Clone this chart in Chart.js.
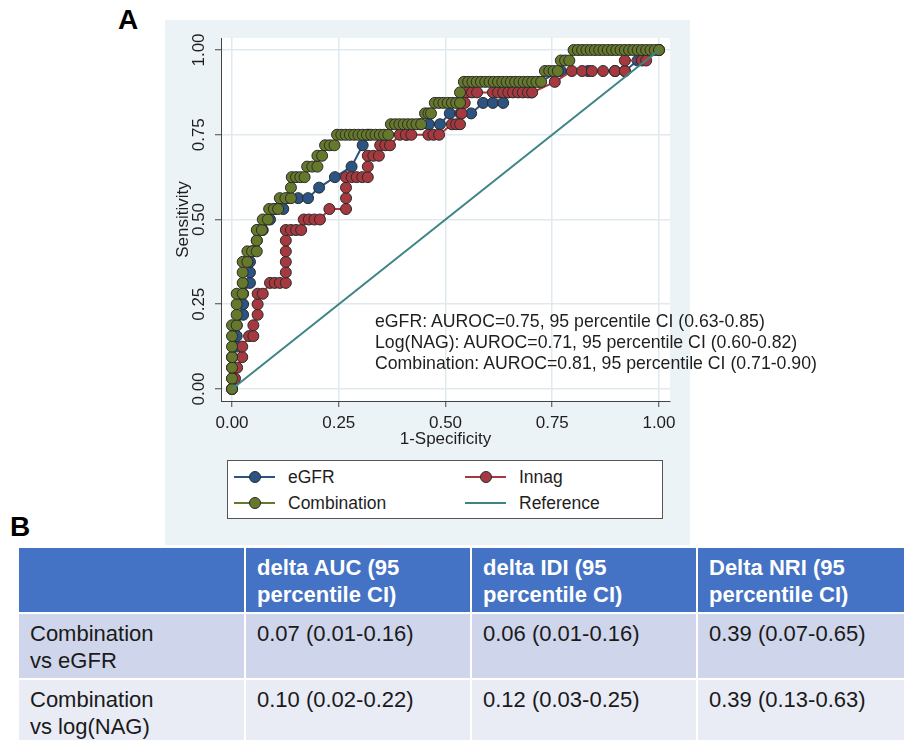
<!DOCTYPE html>
<html>
<head>
<meta charset="utf-8">
<script src="https://cdn.jsdelivr.net/npm/chart.js@4/dist/chart.umd.min.js"></script>
<style>
html,body{margin:0;padding:0;background:#fff;width:904px;height:740px;overflow:hidden;font-family:"Liberation Sans",Arial,sans-serif;}
.plabel{position:absolute;font-weight:bold;font-size:28px;line-height:28px;color:#000;}
#panelA{position:absolute;left:165px;top:20px;width:525px;height:525px;background:#ecf3f6;}
#chartCanvas{position:absolute;left:0;top:0;}
#annot{position:absolute;left:210px;top:291px;font-size:17.7px;line-height:21px;color:#1e1e1e;white-space:nowrap;}
#legend{position:absolute;left:62px;top:440px;width:434px;height:57px;border:1px solid #555;background:#fff;}
.li{position:absolute;height:26px;}
.sym{position:absolute;width:41px;height:26px;top:0;}
.sym .ln{position:absolute;left:0;right:0;top:12px;height:2px;}
.sym .mk{position:absolute;left:15px;top:7px;width:10px;height:10px;border-radius:50%;border:1px solid #2b2b2b;}
.li .tx{position:absolute;top:0;line-height:26px;font-size:17.5px;color:#1e1e1e;white-space:nowrap;}
#tbl{position:absolute;left:17px;top:546px;width:895px;border-collapse:separate;border-spacing:2px;table-layout:fixed;font-size:22px;line-height:27px;}
#tbl td{box-sizing:border-box;vertical-align:top;padding:6px 11px 0 11px;height:64px;color:#1a1a1a;overflow:hidden;}
#tbl tr.h td{background:#4472c4;color:#fff;font-weight:bold;}
#tbl tr.r1 td{background:#cfd5ea;}
#tbl tr.r2 td{background:#e9ebf5;}
</style>
</head>
<body>
<div class="plabel" style="left:118px;top:6px;">A</div>
<div class="plabel" style="left:10px;top:513px;">B</div>

<div id="panelA">
  <canvas id="chartCanvas" width="525" height="525"></canvas>
  <div id="annot"></div>
  <div id="legend"></div>
</div>

<table id="tbl"></table>

<script>
// ---------------- data ----------------
const tickValues = [0, 0.25, 0.5, 0.75, 1];
const tickLabels = ["0.00", "0.25", "0.50", "0.75", "1.00"];
const xTitle = "1-Specificity";
const yTitle = "Sensitivity";

const seriesNames = ["eGFR", "Innag", "Combination", "Reference"];

const egfrPoints = [
  [0,0],[0,0.031],[0,0.063],[0,0.094],[0.011,0.125],[0.011,0.156],[0.011,0.188],
  [0.026,0.219],[0.026,0.25],[0.026,0.281],[0.042,0.313],[0.042,0.344],[0.042,0.375],
  [0.047,0.406],[0.058,0.438],[0.06,0.469],[0.072,0.469],[0.089,0.5],[0.1,0.531],[0.12,0.531],
  [0.13,0.563],[0.155,0.563],[0.178,0.563],[0.204,0.594],[0.241,0.625],[0.28,0.656],
  [0.306,0.719],[0.32,0.75],[0.41,0.75],[0.44,0.781],[0.461,0.781],[0.487,0.781],
  [0.51,0.813],[0.535,0.813],[0.56,0.813],[0.588,0.844],[0.611,0.844],[0.635,0.844],
  [0.645,0.875],[0.7,0.875],[0.72,0.906],[0.77,0.938],[0.834,0.938],[0.897,0.938],
  [0.92,0.938],[0.95,0.969],[1,1]
];

const innagPoints = [
  [0,0],[0.007,0.031],[0.012,0.063],[0.024,0.094],[0.024,0.125],[0.04,0.156],[0.05,0.156],
  [0.05,0.188],[0.06,0.219],[0.06,0.25],[0.06,0.281],[0.072,0.281],[0.089,0.313],[0.1,0.313],
  [0.112,0.313],[0.126,0.313],[0.126,0.344],[0.126,0.375],[0.126,0.406],[0.126,0.438],
  [0.126,0.469],[0.138,0.469],[0.15,0.469],[0.162,0.469],[0.168,0.5],[0.18,0.5],[0.193,0.5],
  [0.206,0.5],[0.228,0.531],[0.267,0.531],[0.267,0.563],[0.267,0.594],[0.267,0.625],
  [0.28,0.625],[0.292,0.625],[0.305,0.625],[0.318,0.625],[0.318,0.656],[0.318,0.688],
  [0.331,0.688],[0.344,0.688],[0.347,0.719],[0.359,0.719],[0.37,0.719],[0.393,0.75],
  [0.407,0.75],[0.42,0.75],[0.46,0.75],[0.472,0.75],[0.485,0.75],[0.515,0.781],[0.525,0.781],
  [0.534,0.781],[0.538,0.813],[0.545,0.844],[0.55,0.875],[0.562,0.875],[0.574,0.875],
  [0.611,0.875],[0.623,0.875],[0.635,0.875],[0.647,0.875],[0.658,0.875],[0.67,0.875],
  [0.681,0.875],[0.693,0.875],[0.703,0.875],[0.756,0.906],[0.796,0.938],[0.82,0.938],
  [0.843,0.938],[0.869,0.938],[0.897,0.938],[0.92,0.938],[0.92,0.969],[0.96,0.969],
  [0.97,0.969],[1,1]
];

const combinationPoints = [
  [0,0],[0,0.031],[0,0.063],[0,0.094],[0,0.125],[0,0.156],[0,0.188],
  [0.011,0.188],[0.011,0.219],[0.011,0.25],[0.011,0.281],
  [0.025,0.281],[0.025,0.313],[0.025,0.344],[0.025,0.375],
  [0.036,0.375],[0.036,0.406],[0.047,0.406],[0.058,0.406],
  [0.058,0.438],[0.058,0.469],[0.07,0.469],
  [0.072,0.5],[0.084,0.5],
  [0.087,0.531],[0.098,0.531],[0.108,0.531],
  [0.112,0.563],[0.125,0.563],[0.138,0.563],
  [0.138,0.594],
  [0.14,0.625],[0.15,0.625],[0.16,0.625],[0.17,0.625],
  [0.176,0.656],[0.188,0.656],[0.2,0.656],
  [0.2,0.688],[0.211,0.688],
  [0.218,0.719],[0.229,0.719],[0.24,0.719],
  [0.246,0.75],[0.256,0.75],[0.266,0.75],[0.276,0.75],[0.286,0.75],[0.296,0.75],[0.306,0.75],
  [0.316,0.75],[0.326,0.75],[0.336,0.75],[0.346,0.75],[0.356,0.75],[0.366,0.75],
  [0.372,0.781],[0.382,0.781],[0.392,0.781],[0.402,0.781],[0.412,0.781],[0.422,0.781],
  [0.432,0.781],[0.443,0.781],
  [0.452,0.813],[0.46,0.813],[0.466,0.813],
  [0.475,0.844],[0.485,0.844],[0.495,0.844],[0.505,0.844],[0.515,0.844],[0.525,0.844],[0.534,0.844],
  [0.534,0.875],
  [0.543,0.906],[0.553,0.906],[0.563,0.906],[0.573,0.906],[0.583,0.906],[0.593,0.906],
  [0.603,0.906],[0.613,0.906],[0.623,0.906],[0.633,0.906],[0.643,0.906],[0.653,0.906],
  [0.663,0.906],[0.673,0.906],[0.683,0.906],[0.693,0.906],[0.703,0.906],[0.713,0.906],[0.724,0.906],
  [0.733,0.938],[0.743,0.938],[0.753,0.938],[0.763,0.938],
  [0.77,0.969],[0.78,0.969],[0.79,0.969],
  [0.8,1],[0.81,1],[0.82,1],[0.83,1],[0.84,1],[0.85,1],[0.86,1],[0.87,1],[0.88,1],[0.89,1],
  [0.9,1],[0.91,1],[0.92,1],[0.93,1],[0.94,1],[0.95,1],[0.96,1],[0.97,1],[0.98,1],[0.99,1],[1,1]
];

const referencePoints = [[0,0],[1,1]];

const annotationLines = [
  "eGFR: AUROC=0.75, 95 percentile CI (0.63-0.85)",
  "Log(NAG): AUROC=0.71, 95 percentile CI (0.60-0.82)",
  "Combination: AUROC=0.81, 95 percentile CI (0.71-0.90)"
];

const tableHeader = ["", "delta AUC (95<br>percentile CI)", "delta IDI (95<br>percentile CI)", "Delta NRI (95<br>percentile CI)"];
const tableRowLabels = ["Combination<br>vs eGFR", "Combination<br>vs log(NAG)"];
const deltaAUC = ["0.07 (0.01-0.16)", "0.10 (0.02-0.22)"];
const deltaIDI = ["0.06 (0.01-0.16)", "0.12 (0.03-0.25)"];
const deltaNRI = ["0.39 (0.07-0.65)", "0.39 (0.13-0.63)"];

// ---------------- styles ----------------
const colors = { egfr: "#2b5482", innag: "#a5393f", comb: "#66792b", ref: "#3d8584" };
const FONT = '17px "Liberation Sans", Arial, sans-serif';

const toXY = pts => pts.map(p => ({ x: p[0], y: p[1] }));

function markerDs(label, pts, col, order) {
  return {
    label, data: toXY(pts), showLine: true, fill: false, tension: 0,
    borderColor: col, borderWidth: 2,
    pointRadius: 5.5, pointHoverRadius: 5.5,
    pointBackgroundColor: col, pointBorderColor: "#2b2b2b", pointBorderWidth: 1,
    order
  };
}

const textPlugin = {
  id: "texts",
  beforeDraw(chart) {
    const { ctx, chartArea: a } = chart;
    ctx.save();
    ctx.fillStyle = "#ffffff";
    ctx.fillRect(a.left, a.top, a.right - a.left, a.bottom - a.top);
    ctx.restore();
  },
  afterDraw(chart) {
    const { ctx, chartArea: a } = chart;
    const xs = chart.scales.x, ys = chart.scales.y;
    ctx.save();
    ctx.font = FONT;
    ctx.fillStyle = "#1e1e1e";
    ctx.textAlign = "center";
    ctx.textBaseline = "middle";
    tickValues.forEach((v, i) => ctx.fillText(tickLabels[i], xs.getPixelForValue(v), xs.top + 22));
    ctx.fillText(xTitle, (a.left + a.right) / 2, xs.top + 38);
    tickValues.forEach((v, i) => {
      ctx.save();
      ctx.translate(ys.right - 22, ys.getPixelForValue(v));
      ctx.rotate(-Math.PI / 2);
      ctx.fillText(tickLabels[i], 0, 0);
      ctx.restore();
    });
    ctx.save();
    ctx.translate(ys.right - 38, (a.top + a.bottom) / 2);
    ctx.rotate(-Math.PI / 2);
    ctx.fillText(yTitle, 0, 0);
    ctx.restore();
    ctx.restore();
  }
};

const axisCommon = {
  type: "linear",
  afterBuildTicks: s => { s.ticks = tickValues.map(v => ({ value: v })); },
  ticks: { display: false },
  grid: { color: "#e0e9ef", lineWidth: 1.5, drawTicks: true, tickLength: 6, tickColor: "#444", tickWidth: 1 },
  border: { color: "#444", width: 1 }
};

new Chart(document.getElementById("chartCanvas"), {
  type: "scatter",
  data: {
    datasets: [
      { label: seriesNames[3], data: toXY(referencePoints), showLine: true, fill: false,
        borderColor: colors.ref, borderWidth: 2, pointRadius: 0, pointHoverRadius: 0, order: 0 },
      markerDs(seriesNames[2], combinationPoints, colors.comb, 1),
      markerDs(seriesNames[1], innagPoints, colors.innag, 2),
      markerDs(seriesNames[0], egfrPoints, colors.egfr, 3)
    ]
  },
  options: {
    responsive: false, animation: false, devicePixelRatio: 1,
    layout: { padding: { top: 18, right: 20, left: 0, bottom: 0 } },
    plugins: { legend: { display: false }, tooltip: { enabled: false } },
    scales: {
      x: Object.assign({}, axisCommon, { min: -0.0258, max: 1.0258, afterFit: s => { s.height = 144; } }),
      y: Object.assign({}, axisCommon, { min: -0.0354, max: 1.0354, afterFit: s => { s.width = 56; } })
    }
  },
  plugins: [textPlugin]
});

// annotation text
document.getElementById("annot").innerHTML = annotationLines.map(t => "<div>" + t + "</div>").join("");

// legend (Stata style, two columns)
const legendItems = [
  { name: seriesNames[0], col: colors.egfr, marker: true, left: 6, top: 3 },
  { name: seriesNames[1], col: colors.innag, marker: true, left: 237, top: 3 },
  { name: seriesNames[2], col: colors.comb, marker: true, left: 6, top: 29 },
  { name: seriesNames[3], col: colors.ref, marker: false, left: 237, top: 29 }
];
document.getElementById("legend").innerHTML = legendItems.map(it =>
  '<div class="li" style="left:' + it.left + 'px;top:' + it.top + 'px;">' +
  '<div class="sym"><div class="ln" style="background:' + it.col + '"></div>' +
  (it.marker ? '<div class="mk" style="background:' + it.col + '"></div>' : '') + '</div>' +
  '<div class="tx" style="left:54px;">' + it.name + '</div></div>'
).join("");

// table
const widths = [225, 224, 224, 212];
let html = '<colgroup>' + widths.map(w => '<col style="width:' + w + 'px">').join("") + '</colgroup>';
html += '<tr class="h">' + tableHeader.map(h => '<td>' + h + '</td>').join("") + '</tr>';
tableRowLabels.forEach((lab, r) => {
  html += '<tr class="r' + (r + 1) + '"><td>' + lab + '</td><td>' + deltaAUC[r] + '</td><td>' + deltaIDI[r] + '</td><td>' + deltaNRI[r] + '</td></tr>';
});
document.getElementById("tbl").innerHTML = html;
</script>
</body>
</html>
